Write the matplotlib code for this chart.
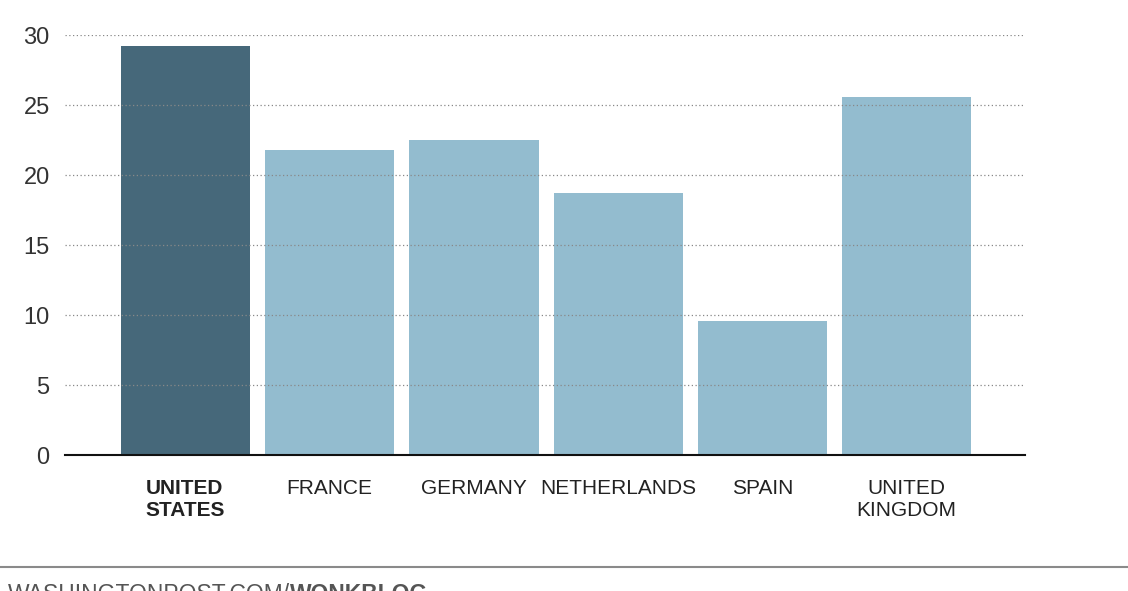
import numpy as np
import matplotlib.pyplot as plt

countries = ['UNITED\nSTATES', 'FRANCE', 'GERMANY', 'NETHERLANDS', 'SPAIN', 'UNITED\nKINGDOM']
values = [29.2, 21.8, 22.5, 18.7, 9.6, 25.6]
yticks = [0, 5, 10, 15, 20, 25, 30]

plt.rcParams['font.family'] = ['Liberation Sans', 'DejaVu Sans']

fig = plt.figure(figsize=(11.28, 5.91), dpi=100)
ax = fig.add_axes([65/1128, 1 - 455/591, 960/1128, 420/591])

colors = ['#46687a'] + ['#93bccf'] * (len(values) - 1)
x = np.arange(len(values))
ax.bar(x, values, width=0.895, color=colors, zorder=1)

ax.set_xlim(-0.835, 5.82)
ax.set_ylim(0, 30)
ax.set_yticks(yticks)
ax.set_yticklabels([str(t) for t in yticks], fontsize=17, color='#333333')
ax.yaxis.grid(True, linestyle=(0, (1, 2)), color='#888888', linewidth=0.9, zorder=2)
ax.set_axisbelow(False)
ax.tick_params(axis='y', length=0, pad=11)
ax.tick_params(axis='x', length=0, pad=17)
ax.set_xticks(x)
ax.set_xticklabels(countries, fontsize=15, color='#222222', va='top', linespacing=1.2)
ax.get_xticklabels()[0].set_fontweight('bold')
ax.get_xticklabels()[0].set_multialignment('left')

for s in ['top', 'right', 'left']:
    ax.spines[s].set_visible(False)
ax.spines['bottom'].set_color('#111111')
ax.spines['bottom'].set_linewidth(1.5)
ax.spines['bottom'].set_zorder(3)

# footer
fig.add_artist(plt.Line2D([0, 1], [1 - 567/591, 1 - 567/591], color='#8a8a8a', linewidth=1.5))
t1 = fig.text(8/1128, 1 - 583/591, 'WASHINGTONPOST.COM/', fontsize=16.5, color='#555555', va='top')
fig.canvas.draw()
bb = t1.get_window_extent()
fig.text(bb.x1 / fig.bbox.width, 1 - 583/591, 'WONKBLOG', fontsize=16.5, color='#555555',
         va='top', fontweight='bold')

fig.savefig('out.png', dpi=100)
